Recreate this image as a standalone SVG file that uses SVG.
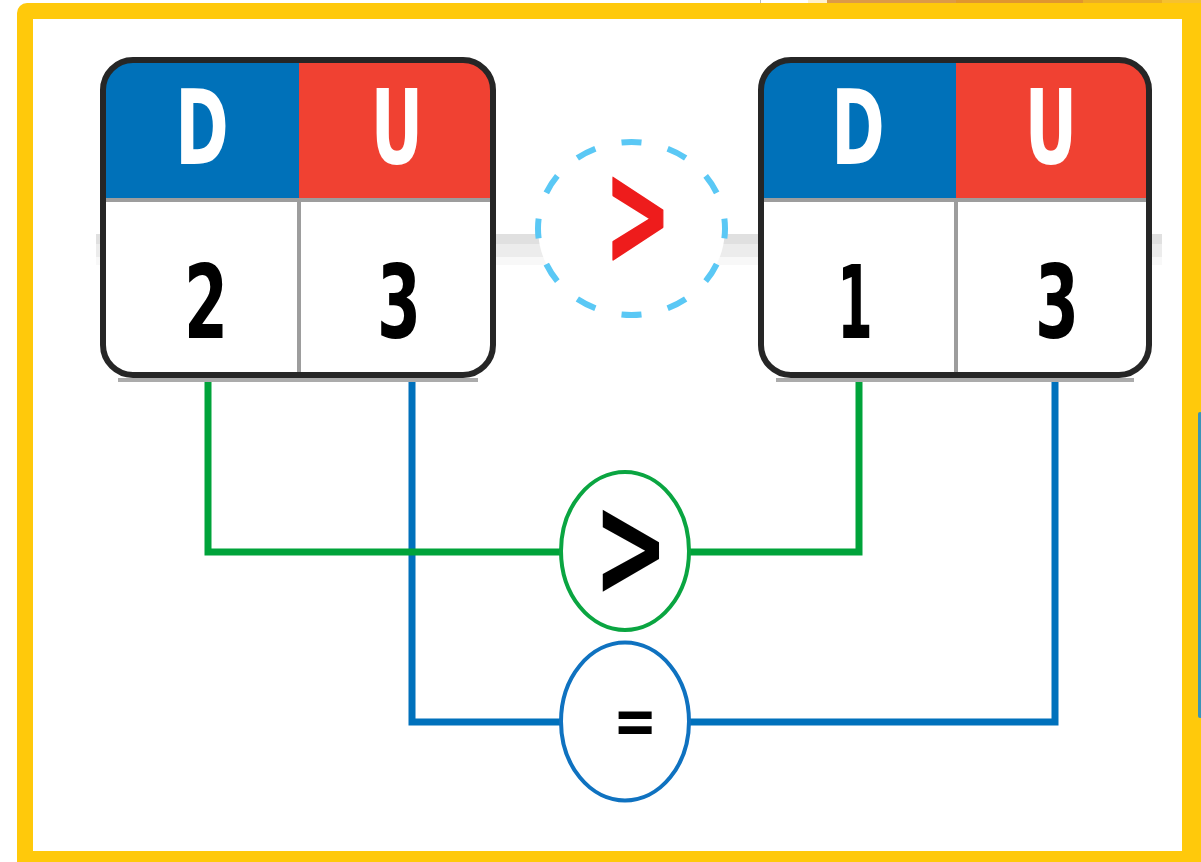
<svg xmlns="http://www.w3.org/2000/svg" width="1201" height="862" viewBox="0 0 1201 862">
  <style>
    .border { fill: none; stroke: #262626; stroke-width: 6; }
    .div { stroke: #9d9d9d; stroke-width: 4; fill: none; }
    .hdr { font-family: "DejaVu Sans", "Liberation Sans", sans-serif; font-size: 104px; font-weight: bold; fill: #ffffff; text-anchor: middle; }
    .num { font-family: "DejaVu Sans", "Liberation Sans", sans-serif; font-size: 102px; font-weight: bold; fill: #000000; text-anchor: middle; }
    .op { font-family: "DejaVu Sans", "Liberation Sans", sans-serif; font-weight: bold; text-anchor: middle; }
    .shadow { stroke: #ababab; stroke-width: 4; fill: none; }
  </style>

  <g id="frame">
    <rect x="0" y="0" width="1201" height="862" fill="#ffffff"/>
    <rect x="808" y="0" width="19" height="3" fill="#fff1cc"/>
    <rect x="827" y="0" width="129" height="3" fill="#dc9a48"/>
    <rect x="956" y="0" width="127" height="3" fill="#e0962f"/>
    <rect x="1083" y="0" width="79" height="3" fill="#ebae25"/>
    <rect x="1162" y="0" width="39" height="3" fill="#f6c12f"/>
    <rect x="760" y="0" width="1" height="3" fill="#bbbbbb"/>
    <rect x="17" y="3" width="1200" height="875" rx="10" fill="#ffc90b"/>
    <rect x="33" y="19" width="1149" height="832" fill="#ffffff"/>
    <rect x="1198" y="412" width="4" height="306" rx="2" fill="#3a94b8"/>
  </g>

  <g id="connectors">
    <rect x="96" y="234" width="1066" height="10" fill="#e0e0e0"/>
    <rect x="96" y="244" width="1066" height="13" fill="#ececec"/>
    <rect x="96" y="257" width="1066" height="8" fill="#f8f8f8"/>
    <polyline points="412,377 412,722 1055,722 1055,377" fill="none" stroke="#0071bc" stroke-width="7"/>
    <polyline points="208,377 208,552 859,552 859,377" fill="none" stroke="#00a33a" stroke-width="7"/>
  </g>

  <g id="box-left">
    <rect x="103" y="60" width="390" height="315" rx="30" fill="#ffffff"/>
    <path d="M103,199 V90 A30,30 0 0 1 133,60 H299 V199 Z" fill="#0071b9"/>
    <path d="M299,60 H463 A30,30 0 0 1 493,90 V199 H299 Z" fill="#f04132"/>
    <line class="div" x1="103" y1="200" x2="493" y2="200"/>
    <line class="div" x1="299" y1="200" x2="299" y2="375"/>
    <line class="shadow" x1="118" y1="380" x2="478" y2="380"/>
    <rect class="border" x="103" y="60" width="390" height="315" rx="30"/>
    <text class="hdr" transform="translate(202,164) scale(0.62,1)">D</text>
    <text class="hdr" transform="translate(397,164) scale(0.62,1)">U</text>
    <text class="num" transform="translate(206,338) scale(0.62,1)">2</text>
    <text class="num" transform="translate(399,338) scale(0.62,1)">3</text>
  </g>

  <g id="box-right">
    <rect x="761" y="60" width="388" height="315" rx="30" fill="#ffffff"/>
    <path d="M761,199 V90 A30,30 0 0 1 791,60 H956 V199 Z" fill="#0071b9"/>
    <path d="M956,60 H1119 A30,30 0 0 1 1149,90 V199 H956 Z" fill="#f04132"/>
    <line class="div" x1="761" y1="200" x2="1149" y2="200"/>
    <line class="div" x1="956" y1="200" x2="956" y2="375"/>
    <line class="shadow" x1="776" y1="380" x2="1134" y2="380"/>
    <rect class="border" x="761" y="60" width="388" height="315" rx="30"/>
    <text class="hdr" transform="translate(858,164) scale(0.62,1)">D</text>
    <text class="hdr" transform="translate(1051,164) scale(0.62,1)">U</text>
    <text class="num" transform="translate(855,338) scale(0.5,1)">1</text>
    <text class="num" transform="translate(1057,338) scale(0.62,1)">3</text>
  </g>

  <g id="compare-top">
    <ellipse cx="631.5" cy="228.5" rx="93.5" ry="86.5" fill="#ffffff" stroke="#5ac8f5" stroke-width="6" pathLength="120" stroke-dasharray="4.3 5.7" stroke-dashoffset="2.15"/>
    <text class="op" font-size="145" fill="#ee1c1c" stroke="#ee1c1c" stroke-width="2" stroke-linejoin="round" transform="translate(638,264) scale(0.55,1)">&gt;</text>
  </g>

  <g id="compare-d">
    <ellipse cx="625" cy="551" rx="64" ry="79" fill="#ffffff" stroke="#0aa541" stroke-width="4"/>
    <text class="op" font-size="145" fill="#000000" transform="translate(631,596) scale(0.62,1)">&gt;</text>
  </g>

  <g id="compare-u">
    <ellipse cx="625" cy="721.5" rx="64" ry="79" fill="#ffffff" stroke="#0f72c0" stroke-width="4"/>
    <text class="op" font-size="66" fill="#000000" transform="translate(635,744) scale(0.8,1)">=</text>
  </g>
</svg>
